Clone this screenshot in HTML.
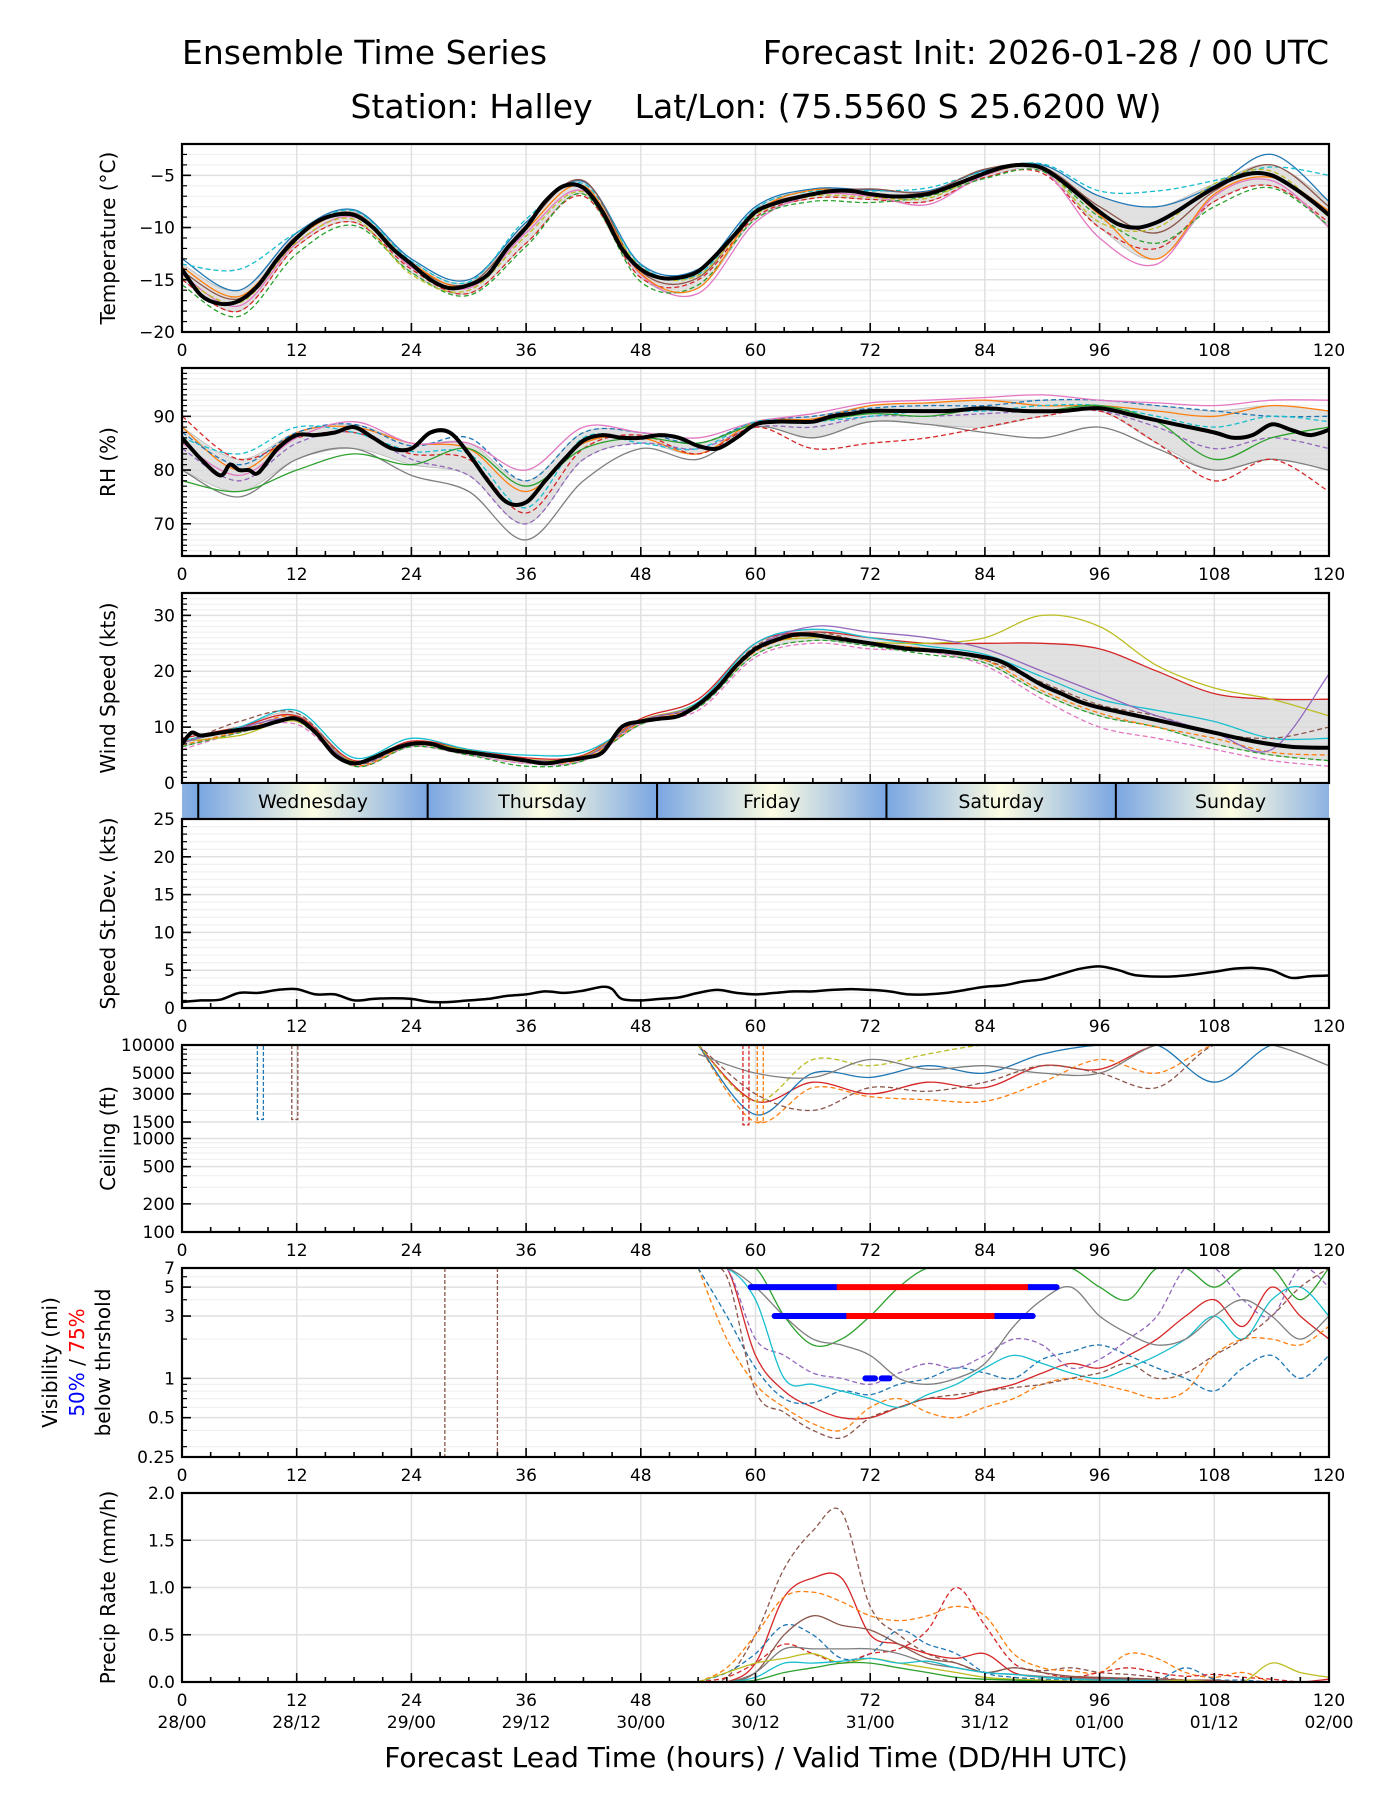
<!DOCTYPE html>
<html><head><meta charset="utf-8"><title>Ensemble Time Series - Halley</title>
<style>
html,body{margin:0;padding:0;background:#fff;}
svg{display:block;font-family:"DejaVu Sans","Liberation Sans",sans-serif;}
</style></head>
<body>
<svg id="chart" width="1400" height="1800" viewBox="0 0 1400 1800" xmlns="http://www.w3.org/2000/svg">
<text x="182" y="64" font-size="33">Ensemble Time Series</text>
<text x="1329" y="64" font-size="33" text-anchor="end">Forecast Init: 2026-01-28 / 00 UTC</text>
<text x="756" y="118" font-size="33" text-anchor="middle" xml:space="preserve">Station: Halley    Lat/Lon: (75.5560 S 25.6200 W)</text>
<text x="756" y="1767" font-size="28" text-anchor="middle">Forecast Lead Time (hours) / Valid Time (DD/HH UTC)</text>
</svg>
<script>
// ---------- data ----------
const hours6 = [0,6,12,18,24,30,36,42,48,54,60,66,72,78,84,90,96,102,108,114,120];
const tempMeanHours = [0,2,4,6,8,10,12,14,16,18,20,22,24,26,28,30,32,34,36,38,40,42,44,46,48,50,52,54,56,58,60,62,64,66,68,70,72,74,76,78,80,82,84,86,88,90,92,94,96,98,100,102,104,106,108,110,112,114,116,118,120];
const tempMean = [-14,-16.5,-17.3,-17,-15.5,-13,-11,-9.5,-8.8,-8.8,-10,-12,-13.5,-15,-15.8,-15.5,-14.5,-12,-10,-7.5,-6,-6.2,-8.5,-12,-14,-14.8,-14.8,-14.2,-12.5,-10.5,-8.5,-7.7,-7.2,-6.8,-6.5,-6.5,-6.8,-7,-7,-6.8,-6.2,-5.5,-4.8,-4.2,-4,-4.3,-5.5,-7,-8.5,-9.7,-10,-9.5,-8.5,-7.3,-6.2,-5.3,-4.8,-5,-6,-7.3,-8.8];
const tempM1 = [-13,-16,-10.5,-8.3,-13,-15,-9.5,-5.6,-13.5,-14,-8,-6.3,-6.4,-6.5,-4.5,-4,-7,-8,-6,-3,-7.5];
const tempM2 = [-15,-18,-11.8,-9.5,-14,-16.3,-11.5,-7,-14.8,-15,-9,-7.2,-7.3,-7.5,-5.2,-4.8,-10,-12,-7.5,-6,-9.5];
const tempM3 = [-14.5,-17.5,-11.5,-9,-13.8,-15.8,-10.5,-6.5,-14.5,-16.3,-9.5,-6.9,-7,-7.8,-5,-4.5,-11,-13.5,-7,-5.5,-10];
const tempM4 = [-13.5,-14,-10.5,-8.4,-13.2,-15.2,-9.2,-5.8,-13.6,-14.5,-8.2,-6.5,-6.5,-6.2,-4.6,-3.9,-6.5,-6.5,-5.5,-4.2,-5];
const tempM5 = [-15.5,-18.5,-12.5,-9.8,-14.3,-16.5,-11.8,-6.8,-15.2,-15.5,-9.2,-7.5,-7.6,-7,-5.3,-4.6,-9,-11.5,-8,-6.2,-9.8];
const tempM6 = [-14.2,-16.8,-10.8,-8.6,-13.6,-15.4,-9.8,-5.5,-14.2,-14.8,-8.5,-6.7,-6.3,-6.6,-4.4,-4.2,-8,-10.5,-6.5,-4,-8];
const tempM7 = [-14.8,-17.2,-11.4,-9.2,-14.5,-16,-10.8,-6.6,-13.8,-14.6,-8.8,-7,-7.1,-7.2,-4.9,-4.4,-9.5,-10,-5.8,-4.6,-9];
const tempM8 = [-13.8,-16.6,-11,-8.7,-13.4,-15.6,-10.2,-6,-14.4,-15.8,-8.6,-6.4,-6.8,-6.9,-4.7,-4.3,-8.8,-13,-6.8,-5.2,-8.4];

const rhMeanHours = [0,2,4,5,6,7,8,10,12,14,16,18,20,22,24,26,28,30,32,34,36,38,40,42,44,46,48,50,52,54,56,58,60,62,64,66,68,70,72,76,80,84,88,92,96,100,104,108,110,112,114,116,118,120];
const rhMean = [86,82,79,81,80,80,79.5,84,86.5,86.5,87,88,86,84,84,87,87,83,78,74,74,78,82,85.5,86.5,86,86,86.5,86,84.5,84,86,88.5,89,89,89,90,90.5,91,91,91,91.5,91,91,91.5,90,88.5,87,86,86.5,88.5,87.5,86.5,87.5];
const rhM1 = [88,80,87,88,85,84,76,85,86,83,89,89.5,92,92.5,93,92,92,91,90,92,91];
const rhM2 = [84,78,85,87,82,79,70,82,85,84,88,88,90,90,90.5,91,91,88,84,86,84];
const rhM3 = [80,75,82,84,79,76,67,78,84,82,88,86,89,88.5,87,86,88,84,80,82,80];
const rhM4 = [87,81,87,88.5,84.5,86,78,87,87,85,89,90,91.5,92,92,93,93,92,91,90,90];
const rhM5 = [90,82,86,87,83,82,72,84,86.5,83,88,84,85,86,88,90,91,85,78,82,76];
const rhM6 = [85,79,86,89,85,85,80,88,87,86,89,90.5,92.5,93,93.5,94,93,92.5,92,93,93];
const rhM7 = [86,83,88,87,83.5,83,73,86,85,84,89,89,90,91,91,92,92,90,88,90,89];
const rhM8 = [78,76,80,83,81,84,77,84,86,85,88.5,89,90.5,90,91.5,91,92,89,82,86,88];

const windMeanHours = [0,1,2,4,6,8,10,12,14,16,18,20,22,24,26,28,30,32,34,36,38,40,42,44,46,48,50,52,54,56,58,60,62,64,66,68,70,72,76,80,84,86,88,90,92,94,96,100,104,108,112,116,120];
const windMean = [7,9,8.5,9,9.5,10,11,11.5,9,5,3.5,4.5,6,7,7,6,5.5,5,4.5,4,3.5,4,4.5,5.5,10,11,11.5,12,14,17,21,24,25.5,26.5,26.5,26,25.5,25,24,23.5,22.5,21.5,19.5,17.5,16,14.5,13.5,12,10.5,9,7.5,6.5,6.3];
const windM1 = [8,10,12,4,7.5,6,4.5,5,11.5,15,25,27,26,25,25,25,24,20,16,15,15];
const windM2 = [6,9,10.5,3,6.5,5,3.5,4,10.5,13,22.5,25,24,23.5,21,15,10,8,6,4,3];
const windM3 = [7.5,10,13,4.5,8,6,5,5.5,11,14.5,25,27.5,26,24.5,23,19,15,13,11,8,8];
const windM4 = [6.5,9,11,3,6.5,5,3,4,10.5,13.5,23,25.5,24.5,23,21.5,16,12,10,7,5,4];
const windM5 = [7,11,12.5,3.5,7,5.5,4,4.5,11,14,24.5,27,25,24,22,18,14,12,9,8,10];
const windM6 = [7.5,8.5,11,3.8,7.2,5.8,4.2,4.8,11.2,14.2,24,26,25.2,25,26,30,28,21,17,15,12];
const windM7 = [6.8,9.2,11.8,3.2,6.8,5.4,3.8,4.3,10.8,13.8,23.5,26.5,25,24,22,16.5,12.5,10,8,5.5,5];
const windM8 = [7.2,9.8,11.2,3.6,7,5.6,4.1,4.6,11.1,14.1,24.2,28,27,26,24,20,16,12,9,6,19.5];

const sdHours = [0,2,4,6,8,10,12,14,16,18,20,22,24,26,28,30,32,34,36,38,40,42,44,45,46,48,50,52,54,56,58,60,62,64,66,68,70,72,74,76,78,80,82,84,86,88,90,92,94,96,98,100,104,108,110,112,114,116,118,120];
const sdVals = [0.8,1,1.1,2,2,2.4,2.5,1.8,1.8,1,1.2,1.3,1.2,0.8,0.8,1,1.2,1.6,1.8,2.2,2,2.3,2.8,2.5,1.2,1,1.2,1.4,2,2.4,2,1.8,2,2.2,2.2,2.4,2.5,2.4,2.2,1.8,1.8,2,2.4,2.8,3,3.5,3.8,4.5,5.2,5.5,5,4.3,4.2,4.8,5.2,5.3,5,4,4.2,4.3];

const ceilHours = [54,60,66,72,78,84,90,96,102,108,114,120];
const ceilC1 = [10000,2500,4000,3000,4000,3500,6000,5500,10000,10000,10000,10000];
const ceilC2 = [10000,1500,3500,2800,2600,2500,4000,7000,5000,10000,10000,10000];
const ceilC3 = [10000,1800,5000,4500,6000,5000,8000,10000,10000,4000,10000,10000];
const ceilC4 = [10000,3000,2000,3500,3200,4000,6000,5000,3500,10000,10000,10000];
const ceilC5 = [10000,2500,7000,6000,8000,10000,10000,10000,10000,10000,10000,10000];
const ceilC6 = [8000,5000,4500,7000,5500,6000,5000,5000,10000,10000,10000,6000];
const ceilSpikeHours = [8.2, 11.8, 59, 60.5];
const ceilSpikeVals = [1600, 1600, 1400, 1500];

const visHours = [54,57,60,63,66,69,72,75,78,81,84,87,90,93,96,99,102,105,108,111,114,117,120];
const visV1 = [7,7,1.5,0.8,0.6,0.5,0.5,0.6,0.7,0.7,0.8,0.9,1.1,1.3,1.2,1.5,2,3,4,2.5,5,3,2];
const visV2 = [7,2,0.9,0.6,0.45,0.4,0.6,0.7,0.55,0.5,0.6,0.7,0.9,1,0.9,0.8,0.7,0.8,1.5,2,2,1.8,2.5];
const visV3 = [7,7,7,3,1.8,2,3,5,7,7,7,7,7,7,5,4,7,7,5,7,7,4,7];
const visV4 = [7,3,1.2,0.7,0.65,0.8,0.75,0.9,1,1.2,1.1,1,1.4,1.6,1.8,1.5,1.2,1,0.8,1.2,1.5,1,1.5];
const visV5 = [7,7,2,1.5,1.1,1,0.9,1.1,1.3,1.2,1.5,2,1.8,1.2,1.4,2,3,7,7,4,3,7,5];
const visV6 = [7,7,4,1,0.9,0.8,0.7,0.6,0.75,0.9,1.2,1.5,1.3,1.1,1,1.2,1.5,2,3,2,4,5,3];
const visV7 = [7,6,0.8,0.55,0.4,0.35,0.5,0.6,0.7,0.75,0.8,0.85,0.9,1,1.1,1.3,1,1.1,1.5,2,3,5,7];
const visV8 = [7,7,5,3,2,1.8,1.5,1,0.9,1,1.3,2.5,4,5,3,2.2,1.8,2,3,4,3,2,3];
const visDropHours = [27.5, 33];
const thr50Starts = [59.5, 88.5, 62, 85, 71.5, 73.2];
const thr50Ends = [68.5, 91.5, 69.5, 89, 72.5, 74];
const thr50Levels = [5, 5, 3, 3, 1, 1];
const thr75Starts = [68.5, 69.5];
const thr75Ends = [88.5, 85];
const thr75Levels = [5, 3];

const precipHours = [54,57,60,63,66,69,72,75,78,81,84,87,90,93,96,99,102,105,108,111,114,117,120];
const precipP1 = [0,0.05,0.5,1.2,1.6,1.8,0.8,0.5,0.3,0.2,0.1,0.15,0.12,0.15,0.1,0.08,0.05,0.02,0,0,0,0,0];
const precipP2 = [0,0,0.2,0.9,1.1,1.1,0.5,0.4,0.3,0.25,0.3,0.1,0.05,0.05,0.04,0.03,0.03,0.02,0.01,0,0,0,0.03];
const precipP3 = [0,0.15,0.5,0.9,0.95,0.85,0.7,0.65,0.7,0.8,0.7,0.3,0.15,0.12,0.1,0.3,0.25,0.1,0.05,0.1,0,0,0];
const precipP4 = [0,0.1,0.3,0.6,0.5,0.25,0.3,0.55,0.4,0.3,0.1,0.05,0.03,0.02,0.03,0.04,0.02,0.15,0.03,0.02,0,0,0];
const precipP5 = [0,0.05,0.2,0.4,0.3,0.2,0.3,0.35,0.55,1.0,0.6,0.2,0.1,0.05,0.1,0.15,0.1,0.06,0.08,0.05,0.03,0,0];
const precipP6 = [0,0,0.1,0.5,0.7,0.6,0.55,0.4,0.25,0.2,0.1,0.15,0.1,0.06,0.05,0.04,0.03,0.02,0.02,0,0,0,0];
const precipP7 = [0,0,0.1,0.35,0.35,0.35,0.35,0.3,0.2,0.15,0.1,0.08,0.06,0.04,0.03,0.02,0.02,0.01,0,0,0,0,0];
const precipP8 = [0,0.1,0.2,0.25,0.3,0.2,0.25,0.2,0.15,0.1,0.05,0.03,0.02,0.01,0.01,0.02,0.01,0.02,0,0,0.2,0.1,0.05];
const precipP9 = [0,0,0.05,0.2,0.2,0.22,0.25,0.2,0.22,0.15,0.1,0.08,0.05,0.03,0.02,0.02,0.01,0,0,0,0,0,0];
const precipP10 = [0,0,0.02,0.1,0.15,0.2,0.2,0.15,0.1,0.05,0.03,0.02,0.01,0,0,0,0,0,0,0,0,0,0];

const dayNames = ["Wednesday","Thursday","Friday","Saturday","Sunday"];
const xTickLabels = ["0","12","24","36","48","60","72","84","96","108","120"];
const dateLabels = ["28/00","28/12","29/00","29/12","30/00","30/12","31/00","31/12","01/00","01/12","02/00"];

// ---------- drawing ----------
const NS = "http://www.w3.org/2000/svg";
const svg = document.getElementById('chart');
const X0 = 182, X1 = 1329;
const COLORS = ["#1f77b4","#ff7f0e","#2ca02c","#d62728","#9467bd","#8c564b","#e377c2","#7f7f7f","#bcbd22","#17becf"];
function xs(h){ return X0 + h*(X1-X0)/120; }
function mk(tag, attrs, parent){
  const e = document.createElementNS(NS, tag);
  for (const k in attrs) e.setAttribute(k, attrs[k]);
  (parent||svg).appendChild(e);
  return e;
}
function smoothPath(pts){
  if (pts.length < 2) return "";
  let d = "M" + pts[0][0].toFixed(1) + "," + pts[0][1].toFixed(1);
  for (let i=0;i<pts.length-1;i++){
    const p0 = pts[Math.max(0,i-1)], p1 = pts[i], p2 = pts[i+1], p3 = pts[Math.min(pts.length-1,i+2)];
    const c1x = p1[0]+(p2[0]-p0[0])/6, c1y = p1[1]+(p2[1]-p0[1])/6;
    const c2x = p2[0]-(p3[0]-p1[0])/6, c2y = p2[1]-(p3[1]-p1[1])/6;
    d += " C"+c1x.toFixed(1)+","+c1y.toFixed(1)+" "+c2x.toFixed(1)+","+c2y.toFixed(1)+" "+p2[0].toFixed(1)+","+p2[1].toFixed(1);
  }
  return d;
}
function makePanel(name, top, bot, ys, majorTicks, tickLabels, minorTicks, yTitle){
  const g = mk('g', {});
  
  
  const clipId = name + '-clip';
  const cp = mk('clipPath', {id: clipId}, g);
  mk('rect', {x: X0, y: top, width: X1-X0, height: bot-top}, cp);
  minorTicks.forEach(v => { const y = ys(v); mk('line', {x1:X0,x2:X1,y1:y,y2:y,stroke:'#f0f0f0','stroke-width':1.2}, g); });
  majorTicks.forEach(v => { const y = ys(v); mk('line', {x1:X0,x2:X1,y1:y,y2:y,stroke:'#e0e0e0','stroke-width':1.5}, g); });
  for (let h=12; h<120; h+=12){ mk('line', {x1:xs(h),x2:xs(h),y1:top,y2:bot,stroke:'#e0e0e0','stroke-width':1.5}, g); }
  const data = mk('g', {'clip-path':'url(#'+clipId+')'}, g);
  
  
  const finish = () => {
    const fr = mk('rect', {x:X0,y:top,width:X1-X0,height:bot-top,fill:'none',stroke:'#000','stroke-width':2.2}, g);
    
    
    for (let h=0; h<=120; h+=3){
      const len = (h%12===0) ? 9 : 5;
      mk('line', {x1:xs(h),x2:xs(h),y1:bot,y2:bot-len,stroke:'#000','stroke-width':1.6}, g);
    }
    majorTicks.forEach(v => { const y = ys(v); mk('line', {x1:X0,x2:X0+9,y1:y,y2:y,stroke:'#000','stroke-width':1.6}, g); });
    minorTicks.forEach(v => { const y = ys(v); mk('line', {x1:X0,x2:X0+5,y1:y,y2:y,stroke:'#000','stroke-width':1.2}, g); });
    tickLabels.forEach((lab,i) => {
      const t = mk('text', {x:X0-7,y:ys(majorTicks[i])+6,'font-size':17,'text-anchor':'end'}, g);
      
      
      t.textContent = lab;
    });
    if (name !== 'wind') {
      xTickLabels.forEach((lab,i) => {
        const t = mk('text', {x:xs(i*12),y:bot+24,'font-size':17,'text-anchor':'middle'}, g);
        
        
        t.textContent = lab;
      });
    }
    if (yTitle){
      const cy = (top+bot)/2;
      const t = mk('text', {x:0,y:0,'font-size':20,'text-anchor':'middle',transform:'translate(115,'+cy+') rotate(-90)'}, g);
      
      
      t.textContent = yTitle;
    }
  };
  return {g, data, finish};
}
function drawLine(parent, hrs, vals, ys, color, width, dash, nm){
  const pts = hrs.map((h,i)=>[xs(h), ys(vals[i])]);
  const p = mk('path', {d:smoothPath(pts), fill:'none', stroke:color, 'stroke-width':width, 'stroke-linejoin':'round'}, parent);
  if (dash) p.setAttribute('stroke-dasharray', dash);
  
  
  return p;
}
function drawBand(parent, hrs, members, ys, nm){
  const lo = [], hi = [];
  hrs.forEach((h,i) => {
    const s = members.map(m=>m[i]).sort((a,b)=>a-b);
    lo.push(s[1]); hi.push(s[s.length-2]);
  });
  const top = hrs.map((h,i)=>[xs(h), ys(hi[i])]);
  const bot = hrs.map((h,i)=>[xs(h), ys(lo[i])]).reverse();
  const d = smoothPath(top) + " L" + smoothPath(bot).slice(1) + " Z";
  const p = mk('path', {d, fill:'#d9d9d9', 'fill-opacity':0.8, stroke:'#bbb','stroke-width':0.8}, parent);
  
  
}
function range(a,b,s){ const r=[]; for(let v=a; v<=b+1e-9; v+=s) r.push(+v.toFixed(4)); return r; }
const dashes = [null,'5,3',null,'5,3','5,3',null,'5,3',null];

// Temperature
{
  const top=144, bot=332, lo=-20, hi=-2;
  const ys = v => bot - (v-lo)/(hi-lo)*(bot-top);
  const P = makePanel('temperature', top, bot, ys, [-20,-15,-10,-5], ['\u221220','\u221215','\u221210','\u22125'], range(-19,-2,1).filter(v=>v%5!==0), 'Temperature (\u00b0C)');
  const mem = [tempM1,tempM2,tempM3,tempM4,tempM5,tempM6,tempM7,tempM8];
  drawBand(P.data, hours6, mem, ys, 'temperature-spread-band');
  mem.forEach((m,i)=>drawLine(P.data, hours6, m, ys, COLORS[(i*3)%10], 1.3, dashes[i], 'temperature-member-line'));
  drawLine(P.data, tempMeanHours, tempMean, ys, '#000', 4, null, 'temperature-mean-line');
  P.finish();
}
// RH
{
  const top=368, bot=556, lo=64, hi=99;
  const ys = v => bot - (v-lo)/(hi-lo)*(bot-top);
  const P = makePanel('rh', top, bot, ys, [70,80,90], ['70','80','90'], range(65,98,1).filter(v=>v%10!==0), 'RH (%)');
  const mem = [rhM1,rhM2,rhM3,rhM4,rhM5,rhM6,rhM7,rhM8];
  drawBand(P.data, hours6, mem, ys, 'rh-spread-band');
  mem.forEach((m,i)=>drawLine(P.data, hours6, m, ys, COLORS[(i*3+1)%10], 1.3, dashes[i], 'rh-member-line'));
  drawLine(P.data, rhMeanHours, rhMean, ys, '#000', 4, null, 'rh-mean-line');
  P.finish();
}
// Wind
{
  const top=593, bot=783, lo=0, hi=34;
  const ys = v => bot - (v-lo)/(hi-lo)*(bot-top);
  const P = makePanel('wind', top, bot, ys, [0,10,20,30], ['0','10','20','30'], range(1,33,1).filter(v=>v%10!==0), 'Wind Speed (kts)');
  const mem = [windM1,windM2,windM3,windM4,windM5,windM6,windM7,windM8];
  drawBand(P.data, hours6, mem, ys, 'wind-spread-band');
  mem.forEach((m,i)=>drawLine(P.data, hours6, m, ys, COLORS[(i*3+3)%10], 1.3, dashes[i], 'wind-member-line'));
  drawLine(P.data, windMeanHours, windMean, ys, '#000', 4, null, 'wind-mean-line');
  P.finish();
}
// Day band
{
  const top=784, bot=818;
  const g = mk('g', {});
  
  
  const defs = mk('defs', {}, g);
  const lg = mk('linearGradient', {id:'dayGrad', x1:'0', x2:'1', y1:'0', y2:'0'}, defs);
  mk('stop', {offset:'0', 'stop-color':'#7aa6e2'}, lg);
  mk('stop', {offset:'0.5', 'stop-color':'#fdfde2'}, lg);
  mk('stop', {offset:'1', 'stop-color':'#7aa6e2'}, lg);
  const cp = mk('clipPath', {id:'bandclip'}, defs);
  mk('rect', {x:X0, y:top, width:X1-X0, height:bot-top}, cp);
  const inner = mk('g', {'clip-path':'url(#bandclip)'}, g);
  const start = 1.7;
  for (let d=-1; d<5; d++){
    const h0 = start + d*24;
    mk('rect', {x:xs(h0), y:top, width:xs(h0+24)-xs(h0), height:bot-top, fill:'url(#dayGrad)'}, inner);
  }
  dayNames.forEach((n,i)=>{
    const h0 = start + i*24;
    mk('line', {x1:xs(h0),x2:xs(h0),y1:top,y2:bot,stroke:'#000','stroke-width':2}, inner);
    const t = mk('text', {x:xs(h0+12), y:top+24, 'font-size':19, 'text-anchor':'middle'}, g);
    
    
    t.textContent = n;
  });
}
// Stdev
{
  const top=819, bot=1008, lo=0, hi=25;
  const ys = v => bot - (v-lo)/(hi-lo)*(bot-top);
  const P = makePanel('stdev', top, bot, ys, [0,5,10,15,20,25], ['0','5','10','15','20','25'], range(1,24,1).filter(v=>v%5!==0), 'Speed St.Dev. (kts)');
  drawLine(P.data, sdHours, sdVals, ys, '#000', 2.5, null, 'stdev-line');
  P.finish();
}
// Ceiling
{
  const top=1045, bot=1232, lo=Math.log10(100), hi=Math.log10(10000);
  const ys = v => bot - (Math.log10(v)-lo)/(hi-lo)*(bot-top);
  const P = makePanel('ceiling', top, bot, ys, [100,200,500,1000,1500,3000,5000,10000], ['100','200','500','1000','1500','3000','5000','10000'], [300,400,600,700,800,900,2000,4000,6000,7000,8000,9000], 'Ceiling (ft)');
  const mem = [ceilC1,ceilC2,ceilC3,ceilC4,ceilC5,ceilC6];
  mem.forEach((m,i)=>drawLine(P.data, ceilHours, m, ys, COLORS[[3,1,0,5,8,7][i]], 1.3, dashes[i], 'ceiling-member-line'));
  ceilSpikeHours.forEach((h,i)=>{
    const l = mk('path', {d:'M'+(xs(h)-3)+','+ys(10000)+' L'+(xs(h)-3)+','+ys(ceilSpikeVals[i])+' L'+(xs(h)+3)+','+ys(ceilSpikeVals[i])+' L'+(xs(h)+3)+','+ys(10000), fill:'none', stroke:COLORS[[0,5,3,1][i]], 'stroke-width':1.3, 'stroke-dasharray':'4,2'}, P.data);
    
    
  });
  P.finish();
}
// Visibility
{
  const top=1268, bot=1457, lo=Math.log10(0.25), hi=Math.log10(7);
  const ys = v => bot - (Math.log10(v)-lo)/(hi-lo)*(bot-top);
  const P = makePanel('visibility', top, bot, ys, [0.25,0.5,1,3,5,7], ['0.25','0.5','1','3','5','7'], [0.3,0.4,0.6,0.7,0.8,0.9,2,4,6], null);
  const mem = [visV1,visV2,visV3,visV4,visV5,visV6,visV7,visV8];
  mem.forEach((m,i)=>drawLine(P.data, visHours, m, ys, COLORS[[3,1,2,0,4,9,5,7][i]], 1.3, dashes[i], 'visibility-member-line'));
  visDropHours.forEach(h=>{
    const l = mk('line', {x1:xs(h),x2:xs(h),y1:top,y2:bot,stroke:COLORS[5],'stroke-width':1.3,'stroke-dasharray':'4,2'}, P.data);
    
    
  });
  thr50Starts.forEach((s,i)=>{
    const l = mk('line', {x1:xs(s),x2:xs(thr50Ends[i]),y1:ys(thr50Levels[i]),y2:ys(thr50Levels[i]),stroke:'#0000ff','stroke-width':6,'stroke-linecap':'round'}, P.data);
    
    
  });
  thr75Starts.forEach((s,i)=>{
    const l = mk('line', {x1:xs(s),x2:xs(thr75Ends[i]),y1:ys(thr75Levels[i]),y2:ys(thr75Levels[i]),stroke:'#ff0000','stroke-width':6}, P.data);
    
    
  });
  P.finish();
  const cy = (top+bot)/2;
  const t1 = mk('text', {x:0,y:0,'font-size':20,'text-anchor':'middle',transform:'translate(57,'+cy+') rotate(-90)'});
  
  
  t1.textContent = 'Visibility (mi)';
  const t2 = mk('text', {x:0,y:0,'font-size':20,'text-anchor':'middle',transform:'translate(84,'+cy+') rotate(-90)'});
  
  
  const a = mk('tspan', {fill:'#0000ff'}, t2); a.textContent = '50%';
  const b = mk('tspan', {fill:'#000'}, t2); b.textContent = ' / ';
  const c = mk('tspan', {fill:'#ff0000'}, t2); c.textContent = '75%';
  const t3 = mk('text', {x:0,y:0,'font-size':20,'text-anchor':'middle',transform:'translate(110,'+cy+') rotate(-90)'});
  
  
  t3.textContent = 'below thrshold';
}
// Precip
{
  const top=1493, bot=1682, lo=0, hi=2;
  const ys = v => bot - (v-lo)/(hi-lo)*(bot-top);
  const P = makePanel('precip', top, bot, ys, [0,0.5,1,1.5,2], ['0.0','0.5','1.0','1.5','2.0'], [], 'Precip Rate (mm/h)');
  const mem = [precipP1,precipP2,precipP3,precipP4,precipP5,precipP6,precipP7,precipP8,precipP9,precipP10];
  const pc = [5,3,1,0,3,5,7,8,9,2];
  const pd = ['5,3',null,'5,3','5,3','5,3',null,null,null,null,null];
  mem.forEach((m,i)=>drawLine(P.data, precipHours, m, ys, COLORS[pc[i]], 1.3, pd[i], 'precip-member-line'));
  P.finish();
  dateLabels.forEach((lab,i)=>{
    const t = mk('text', {x:xs(i*12), y:bot+46, 'font-size':17, 'text-anchor':'middle'});
    
    
    t.textContent = lab;
  });
}
</script>
</body></html>
